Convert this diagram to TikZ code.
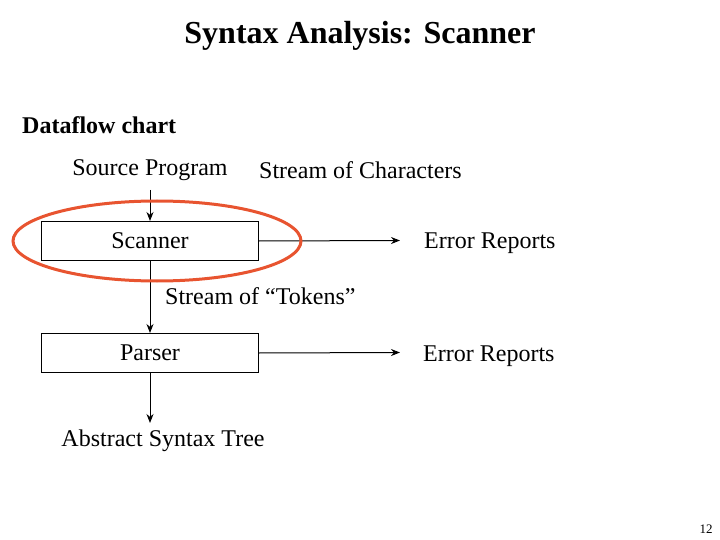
\documentclass[tikz,border=0pt]{standalone}
\usepackage{fontspec}
\setmainfont{Liberation Serif}
\usetikzlibrary{arrows.meta}
\begin{document}
\begin{tikzpicture}[x=1pt,y=-1pt,
  lbl/.style={font=\fontsize{24}{26}\selectfont},
  stagebox/.style={draw,line width=1pt,minimum width=217pt,minimum height=39pt,anchor=north west,inner sep=0pt},
  flow/.style={line width=1pt,-{Stealth[length=9pt,width=7pt]}}]
\useasboundingbox (0,0) rectangle (720,540);
\node[font=\bfseries\fontsize{32}{34}\selectfont] (title) at (360,36) {Syntax Analysis: Scanner};
\node[font=\bfseries\fontsize{24}{26}\selectfont,anchor=west,inner sep=0pt] (df) at (22,125) {Dataflow chart};
\node[lbl] (src) at (150,170) {Source Program};
\node[lbl,anchor=west,inner sep=0pt] (soc) at (259,170) {Stream of Characters};
\node[stagebox] (scan) at (41,221) {};
\node[lbl] (scant) at (150,241) {Scanner};
\node[lbl,anchor=west,inner sep=0pt] (err1) at (424,243) {Error Reports};
\coordinate (e1) at (400,240.5);
\node[lbl,anchor=west,inner sep=0pt] (tok) at (165,296) {Stream of “Tokens”};
\node[stagebox] (pars) at (41,333) {};
\node[lbl] (parst) at (150,353) {Parser};
\node[lbl,anchor=west,inner sep=0pt] (err2) at (423,356) {Error Reports};
\coordinate (e2) at (400,352.5);
\node[lbl] (ast) at (163,441) {Abstract Syntax Tree};
\coordinate (aend) at (150,423);
\node[font=\fontsize{13}{15}\selectfont] (pg) at (706,529) {12};
\draw[flow] (150,190) -- (scan.north -| 150,0);
\draw[flow] (scan.east) -- (e1);
\draw[flow] (scan.south -| 150,0) -- (pars.north -| 150,0);
\draw[flow] (pars.east) -- (e2);
\draw[flow] (pars.south -| 150,0) -- (aend);
\draw[line width=3pt,color={rgb,255:red,232;green,84;blue,48}] (157,241) ellipse [x radius=144, y radius=40];
\end{tikzpicture}
\end{document}
